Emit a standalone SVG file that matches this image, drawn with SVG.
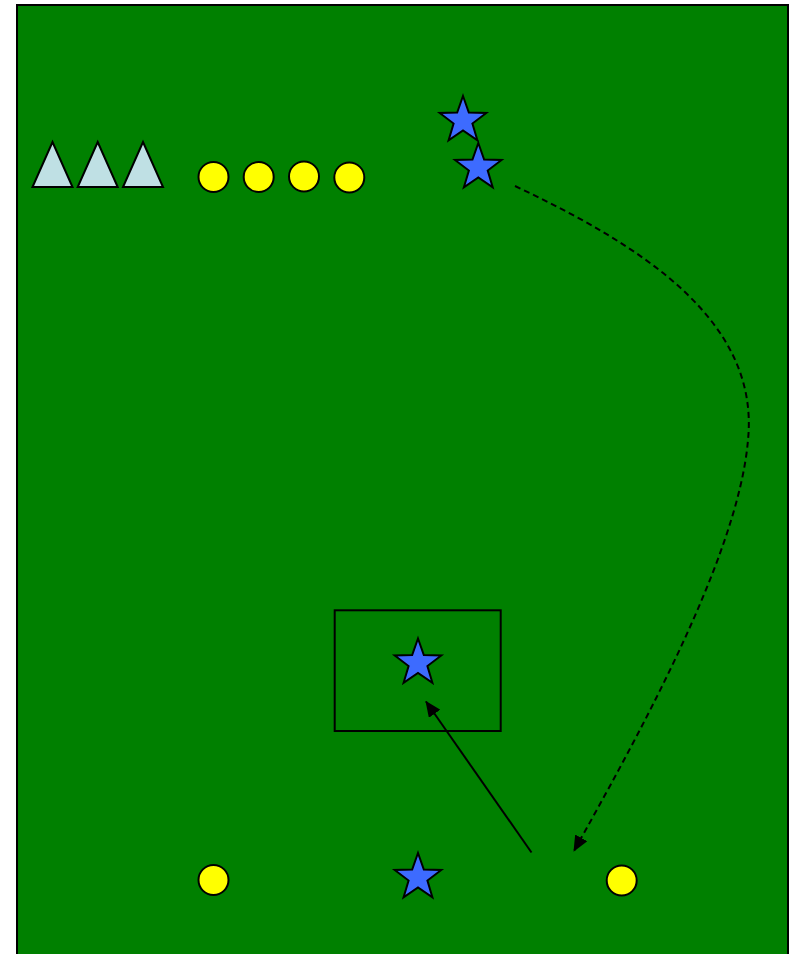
<svg xmlns="http://www.w3.org/2000/svg" width="793" height="954" viewBox="0 0 793 954">
<style>
.ball{fill:#ffff00;stroke:#000;stroke-width:2}
.cone{fill:#bfe0e4;stroke:#000;stroke-width:2;stroke-linejoin:miter}
.player{fill:#3d6bff;stroke:#000;stroke-width:2}
.conn{fill:none;stroke:#000;stroke-width:2}
</style>
<defs>
<path id="star" d="M0,-24.5 L5.82,-8.02 L23.3,-7.57 L9.42,3.06 L14.4,19.82 L0,9.9 L-14.4,19.82 L-9.42,3.06 L-23.3,-7.57 L-5.82,-8.02 Z"/>
<marker id="arrow" viewBox="0 0 16 14" refX="15" refY="7" markerWidth="16" markerHeight="14" markerUnits="userSpaceOnUse" orient="auto">
<path d="M0,0 L16,7 L0,14 Z" fill="#000"/>
</marker>
</defs>
<rect id="field" x="17" y="5" width="771" height="960" fill="#008000" stroke="#000" stroke-width="2"/>
<g id="cones">
<polygon id="cone1" class="cone" points="52.5,142 72.5,187 32.5,187"/>
<polygon id="cone2" class="cone" points="97.7,142 117.7,187 77.7,187"/>
<polygon id="cone3" class="cone" points="143,142 163,187 123,187"/>
</g>
<g id="balls">
<circle id="ball1" class="ball" cx="213.5" cy="177" r="15"/>
<circle id="ball2" class="ball" cx="258.7" cy="177" r="15"/>
<circle id="ball3" class="ball" cx="304" cy="176.5" r="15"/>
<circle id="ball4" class="ball" cx="349.3" cy="177.5" r="15"/>
<circle id="ball5" class="ball" cx="213.5" cy="880" r="15"/>
<circle id="ball6" class="ball" cx="621.7" cy="880.5" r="15"/>
</g>
<g id="box">
<rect x="334.7" y="610.3" width="166" height="120.7" fill="none" stroke="#000" stroke-width="2"/>
</g>
<g id="players">
<use id="player1" href="#star" class="player" x="463" y="120.5"/>
<use id="player2" href="#star" class="player" x="478.3" y="167.5"/>
<use id="player3" href="#star" class="player" x="418" y="663"/>
<use id="player4" href="#star" class="player" x="418" y="877.5"/>
</g>
<g id="connectors">
<path class="conn" stroke-dasharray="6,4" d="M515,186 C640,245 760,320 748,440 C738,560 630,750 574,851" marker-end="url(#arrow)"/>
<path class="conn" d="M531.5,852.5 L426,701.5" marker-end="url(#arrow)"/>
</g>
</svg>
